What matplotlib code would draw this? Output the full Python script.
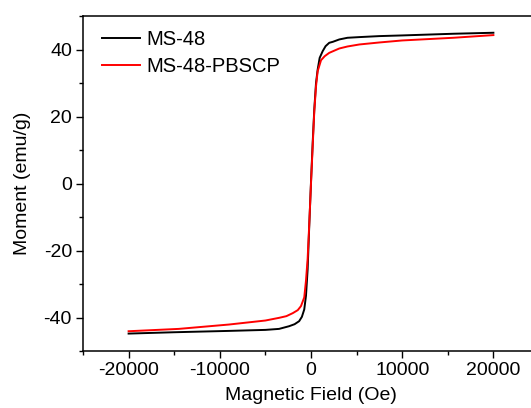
import matplotlib
matplotlib.use("Agg")
import matplotlib.pyplot as plt
from matplotlib.ticker import MultipleLocator

# ----------------------------
# Data
# ----------------------------
field_ms48 = [-20000, -15000, -9000, -5000, -3500, -2400, -1800, -1300, -1000,
              -740, -550, -370, -190, 0, 190, 360, 550, 730, 950, 1280, 1600,
              2000, 2400, 3100, 4000, 5300, 7500, 10000, 15600, 20000]
moment_ms48 = [-44.8, -44.4, -44.0, -43.7, -43.4, -42.6, -42.0, -41.1, -39.8,
               -37.6, -33.5, -25.7, -12.5, 0.5, 12.5, 22.1, 30.0, 34.0, 37.5,
               39.5, 41.0, 42.0, 42.3, 43.0, 43.5, 43.7, 44.0, 44.2, 44.7, 45.0]

field_pbscp = [-20000, -14500, -9000, -5000, -3500, -2700, -2000, -1450, -1100,
               -740, -550, -370, -190, 0, 190, 360, 550, 730, 1100, 1500, 2000,
               3100, 4000, 5300, 7500, 10000, 15600, 20000]
moment_pbscp = [-44.1, -43.4, -42.1, -40.9, -40.1, -39.6, -38.7, -37.8, -36.6,
                -34.0, -29.0, -22.5, -12.0, 0.0, 11.5, 21.5, 29.0, 33.5, 36.8,
                38.0, 39.0, 40.3, 40.9, 41.5, 42.1, 42.7, 43.5, 44.3]

labels = ["MS-48", "MS-48-PBSCP"]
colors = ["black", "red"]

plt.rcParams["font.family"] = ["Liberation Sans", "DejaVu Sans"]
plt.rcParams["axes.unicode_minus"] = False

fig = plt.figure(figsize=(5.31, 4.08), dpi=100)
# right spine sits just past the image edge in the reference
ax = fig.add_axes([83 / 531, 57 / 408, 456 / 531, 335 / 408])

ax.plot(field_ms48, moment_ms48, color=colors[0], lw=1.4, label=labels[0])
ax.plot(field_pbscp, moment_pbscp, color=colors[1], lw=1.4, label=labels[1])

ax.set_xlim(-25000, 25000)
ax.set_ylim(-50, 50)
ax.xaxis.set_major_locator(MultipleLocator(10000))
ax.xaxis.set_minor_locator(MultipleLocator(5000))
ax.yaxis.set_major_locator(MultipleLocator(20))
ax.yaxis.set_minor_locator(MultipleLocator(10))
ax.tick_params(which="major", direction="out", length=5, width=1,
               labelsize=14, pad=3)
ax.tick_params(which="minor", direction="out", length=3, width=1)
for s in ax.spines.values():
    s.set_linewidth(1.1)

ax.set_xlabel("Magnetic Field (Oe)", fontsize=14, labelpad=6)
ax.set_ylabel("Moment (emu/g)", fontsize=14, labelpad=9)

ax.legend(loc="upper left", frameon=False, fontsize=14.5, handlelength=1.9,
          handletextpad=0.3, labelspacing=0.4, borderaxespad=0.2,
          bbox_to_anchor=(0.015, 0.995))

fig.savefig("out.png", dpi=100)
